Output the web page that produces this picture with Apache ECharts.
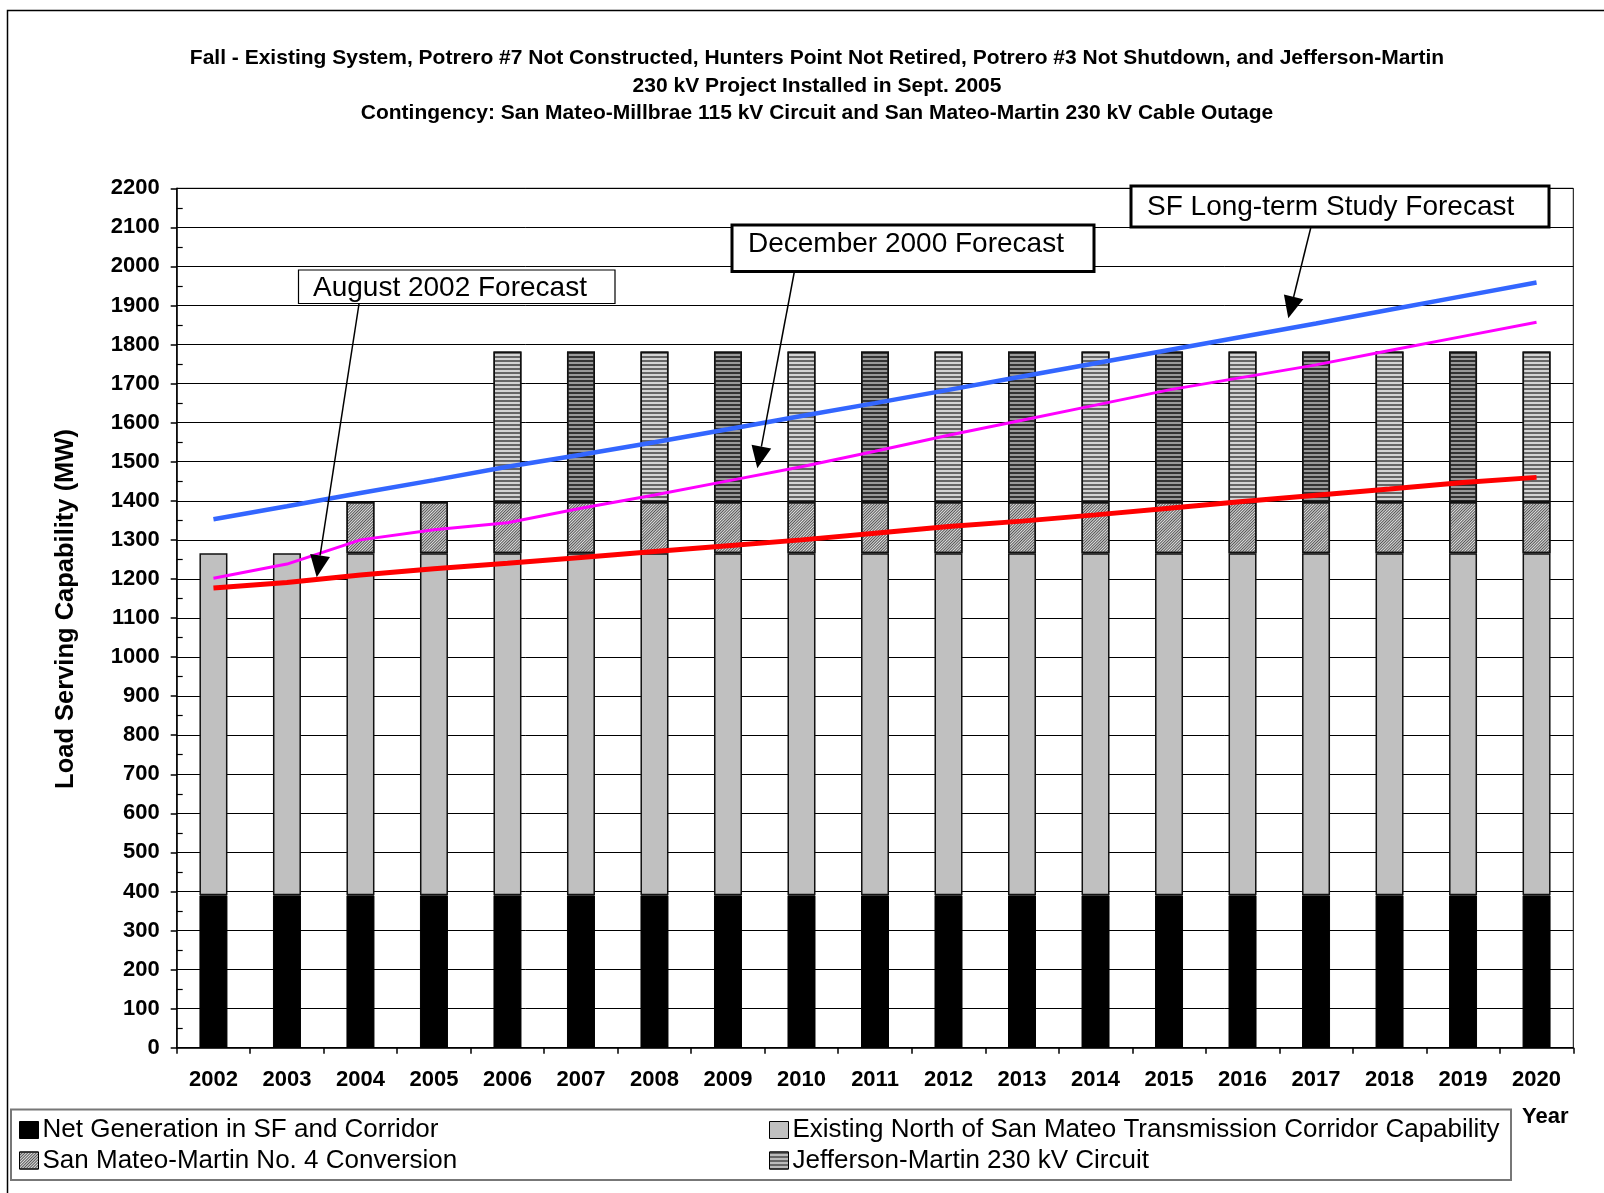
<!DOCTYPE html>
<html>
<head>
<meta charset="utf-8">
<script src="https://cdn.jsdelivr.net/npm/echarts@6/dist/echarts.min.js"></script>
<style>
  html, body { margin: 0; padding: 0; background: #fff; }
  #chart { width: 1604px; height: 1193px; }
</style>
</head>
<body>
<div id="chart"></div>
<script>
const years = ['2002','2003','2004','2005','2006','2007','2008','2009','2010','2011','2012','2013','2014','2015','2016','2017','2018','2019','2020'];
const netGeneration = [390,390,390,390,390,390,390,390,390,390,390,390,390,390,390,390,390,390,390];
const existingCorridor = [876,876,876,876,876,876,876,876,876,876,876,876,876,876,876,876,876,876,876];
const conversionNo4 = [null,null,131,131,131,131,131,131,131,131,131,131,131,131,131,131,131,131,131];
const jeffersonMartin = [null,null,null,null,385,385,385,385,385,385,385,385,385,385,385,385,385,385,385];
const sfLongTerm = [1353,1386,1420,1453,1487,1518,1550,1583,1617,1650,1684,1718,1752,1786,1820,1854,1889,1924,1959];
const dec2000 = [1202,1238,1300,1326,1344,1381,1415,1451,1487,1527,1568,1606,1645,1684,1716,1748,1785,1821,1857];
const aug2002 = [1177,1191,1210,1226,1240,1255,1270,1285,1300,1317,1334,1348,1364,1381,1398,1414,1430,1447,1460];
const yTicks = { min: 0, max: 2200, interval: 100 };

const FONT = 'Liberation Sans, Arial, sans-serif';
const titleLines = [
  'Fall - Existing System, Potrero #7 Not Constructed, Hunters Point Not Retired, Potrero #3 Not Shutdown, and Jefferson-Martin',
  '230 kV Project Installed in Sept. 2005',
  'Contingency: San Mateo-Millbrae 115 kV Circuit and San Mateo-Martin 230 kV Cable Outage'
];

const chart = echarts.init(document.getElementById('chart'), null, { renderer: 'canvas' });

const convDecal = { symbol: 'rect', symbolSize: 1, color: '#555', dashArrayX: [1, 0], dashArrayY: [1, 1], rotation: -Math.PI / 4 };
const jmDark = { symbol: 'rect', symbolSize: 1, color: '#333', dashArrayX: [1, 0], dashArrayY: [1.5, 1.5], rotation: 0 };
const jmLight = { symbol: 'rect', symbolSize: 1, color: '#666', dashArrayX: [1, 0], dashArrayY: [1.2, 2], rotation: 0 };

const jmData = jeffersonMartin.map((v, i) => ({
  value: v,
  itemStyle: i % 2 === 0 ? { color: '#d4d4d4', decal: jmLight } : { color: '#999', decal: jmDark }
}));

function arrow(x1, y1, x2, y2) {
  const dx = x2 - x1, dy = y2 - y1, L = Math.hypot(dx, dy);
  const ux = dx / L, uy = dy / L, hl = 22, hw = 10;
  const bx = x2 - ux * hl, by = y2 - uy * hl;
  return [
    { type: 'line', shape: { x1: x1, y1: y1, x2: bx, y2: by }, style: { stroke: '#000', lineWidth: 1.5 }, z: 200 },
    { type: 'polygon', shape: { points: [[x2, y2], [bx - uy * hw, by + ux * hw], [bx + uy * hw, by - ux * hw]] }, style: { fill: '#000' }, z: 200 }
  ];
}

function labelBox(x, y, w, h, text, lw, tx, ty) {
  return [
    { type: 'rect', shape: { x: x, y: y, width: w, height: h }, style: { fill: '#fff', stroke: '#000', lineWidth: lw }, z: 190 },
    { type: 'text', x: tx, y: ty, style: { text: text, font: '28px ' + FONT, fill: '#000', textVerticalAlign: 'middle' }, z: 191 }
  ];
}

const graphics = [
  { type: 'rect', shape: { x: 7.5, y: 10.5, width: 1640, height: 1220 }, style: { fill: null, stroke: '#000', lineWidth: 1.5 }, z: 1 },
  { type: 'text', x: 817, y: 44.5, style: { text: titleLines.join('\n'), font: 'bold 21px ' + FONT, fill: '#000', textAlign: 'center', lineHeight: 27.5 }, z: 10 },
  { type: 'rect', shape: { x: 11, y: 1109.5, width: 1500, height: 70.5 }, style: { fill: '#fff', stroke: '#777', lineWidth: 2 }, z: 2 },
  { type: 'text', x: 1522, y: 1117, style: { text: 'Year', font: 'bold 22px ' + FONT, fill: '#000', textVerticalAlign: 'middle' }, z: 10 }
]
  .concat(labelBox(298.5, 270, 316.5, 33.5, 'August 2002 Forecast', 1.2, 313, 288))
  .concat(labelBox(732, 225, 362, 46.5, 'December 2000 Forecast', 3, 748, 244))
  .concat(labelBox(1131, 186, 418, 41, 'SF Long-term Study Forecast', 3, 1147, 207))
  .concat(arrow(359, 304, 316.7, 577.3))
  .concat(arrow(794.3, 272, 757.3, 468.3))
  .concat(arrow(1310.7, 228, 1288.3, 318.3));

const legendCommon = {
  orient: 'vertical', top: 1117, padding: 0, itemGap: 4.5, icon: 'rect',
  itemWidth: 19, itemHeight: 17, itemStyle: { borderColor: '#000', borderWidth: 1 },
  textStyle: { fontSize: 26, color: '#000', fontFamily: FONT, lineHeight: 26, padding: [0, 0, 0, -1] },
  selectedMode: false, z: 5
};

const option = {
  animation: false,
  backgroundColor: '#fff',
  textStyle: { fontFamily: FONT },
  grid: { left: 176.7, right: 30.7, top: 188.3, bottom: 145.3, show: true, borderColor: '#000', borderWidth: 1, containLabel: false },
  legend: [
    Object.assign({}, legendCommon, { left: 19, data: ['Net Generation in SF and Corridor', 'San Mateo-Martin No. 4 Conversion'] }),
    Object.assign({}, legendCommon, { left: 769, data: ['Existing North of San Mateo Transmission Corridor Capability', 'Jefferson-Martin 230 kV Circuit'] })
  ],
  xAxis: {
    type: 'category',
    data: years,
    boundaryGap: true,
    axisLine: { lineStyle: { color: '#000', width: 1.5 } },
    axisTick: { show: true, length: 6, lineStyle: { color: '#000', width: 1.5 } },
    axisLabel: { fontSize: 22, fontWeight: 'bold', color: '#000', margin: 21, fontFamily: FONT },
    splitLine: { show: false }
  },
  yAxis: {
    type: 'value',
    min: yTicks.min, max: yTicks.max, interval: yTicks.interval,
    axisLine: { show: true, lineStyle: { color: '#000', width: 1.5 } },
    axisTick: { show: true, length: 6, lineStyle: { color: '#000', width: 1.5 } },
    minorTick: { show: true, splitNumber: 2, length: -6, lineStyle: { color: '#000', width: 1.2 } },
    axisLabel: { fontSize: 22, fontWeight: 'bold', color: '#000', margin: 17, fontFamily: FONT, formatter: (v) => String(v) },
    splitLine: { show: true, lineStyle: { color: '#000', width: 1 } },
    name: 'Load Serving Capability (MW)',
    nameLocation: 'middle',
    nameRotate: 90,
    nameGap: 98,
    nameTextStyle: { fontSize: 25.5, fontWeight: 'bold', color: '#000', fontFamily: FONT, padding: [0, 0, 0, 18] }
  },
  series: [
    {
      name: 'Net Generation in SF and Corridor', type: 'bar', stack: 'cap', barWidth: 28,
      itemStyle: { color: '#000', borderColor: '#000', borderWidth: 1 },
      data: netGeneration, z: 2
    },
    {
      name: 'Existing North of San Mateo Transmission Corridor Capability', type: 'bar', stack: 'cap', barWidth: 28,
      itemStyle: { color: '#c0c0c0', borderColor: '#111', borderWidth: 1.5 },
      data: existingCorridor, z: 2
    },
    {
      name: 'San Mateo-Martin No. 4 Conversion', type: 'bar', stack: 'cap', barWidth: 28,
      itemStyle: { color: '#e0e0e0', borderColor: '#111', borderWidth: 1.5, decal: convDecal },
      data: conversionNo4, z: 2
    },
    {
      name: 'Jefferson-Martin 230 kV Circuit', type: 'bar', stack: 'cap', barWidth: 28,
      itemStyle: { color: '#bbb', borderColor: '#111', borderWidth: 1.5, decal: jmLight },
      data: jmData, z: 2
    },
    {
      name: 'SF Long-term Study Forecast', type: 'line', data: sfLongTerm, symbol: 'none', smooth: false,
      lineStyle: { color: '#3366ff', width: 4.5 }, itemStyle: { color: '#3366ff' }, z: 5
    },
    {
      name: 'December 2000 Forecast', type: 'line', data: dec2000, symbol: 'none',
      lineStyle: { color: '#ff00ff', width: 3 }, itemStyle: { color: '#ff00ff' }, z: 5
    },
    {
      name: 'August 2002 Forecast', type: 'line', data: aug2002, symbol: 'none',
      lineStyle: { color: '#ff0000', width: 5 }, itemStyle: { color: '#ff0000' }, z: 5
    }
  ],
  graphic: graphics
};

chart.setOption(option);
</script>
</body>
</html>
